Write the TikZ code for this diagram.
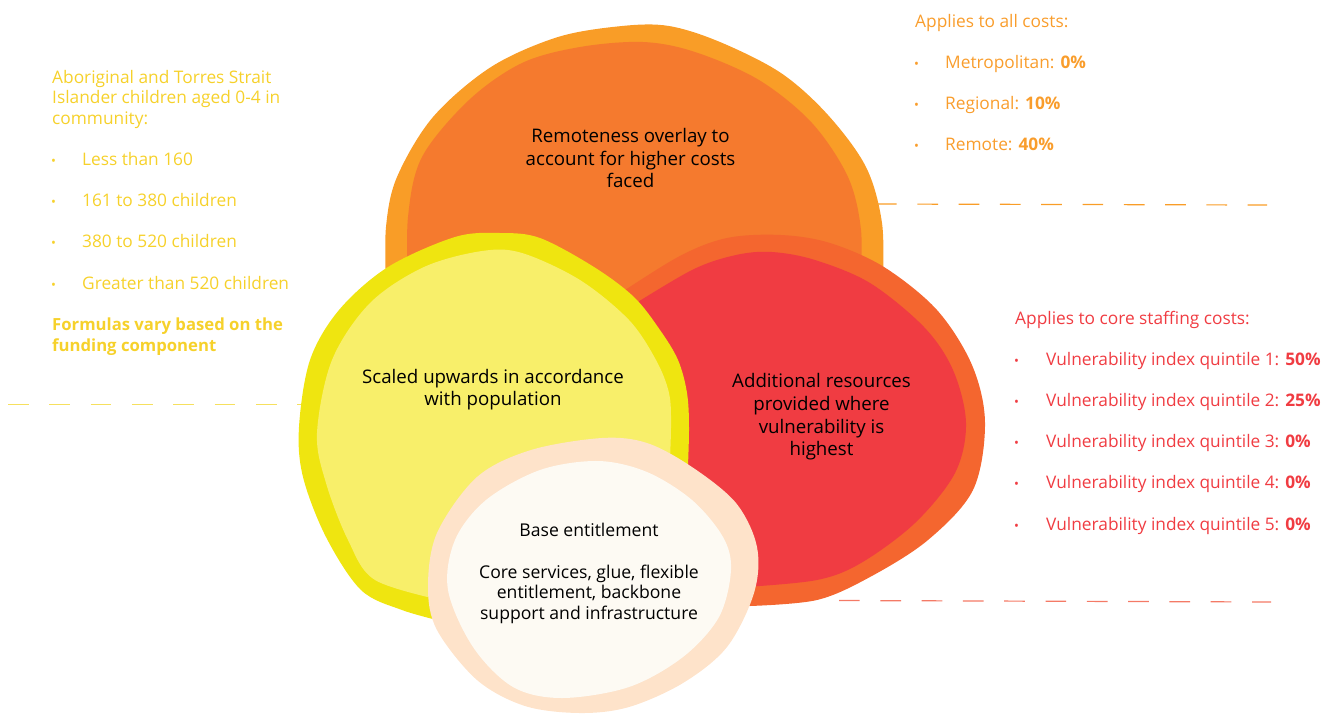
\documentclass[tikz,border=0pt]{standalone}
\usepackage{fontspec}
\setmainfont{Open Sans}
\definecolor{amberOut}{HTML}{F99D27}
\definecolor{amberIn}{HTML}{F57A2E}
\definecolor{yelOut}{HTML}{EFE510}
\definecolor{yelIn}{HTML}{F8EF6A}
\definecolor{redOut}{HTML}{F4662F}
\definecolor{redIn}{HTML}{F03C42}
\definecolor{baseOut}{HTML}{FEE3CA}
\definecolor{baseIn}{HTML}{FDFAF3}
\definecolor{yelText}{HTML}{F6D12B}
\definecolor{amberText}{HTML}{F99D2C}
\definecolor{redText}{HTML}{F03C42}
\definecolor{yelDash}{HTML}{F6E05E}
\definecolor{redDash}{HTML}{F47A66}
\tikzset{
  blob/.style={fill=#1,draw=none},
  side/.style={anchor=base west,inner sep=0pt,font=\fontsize{17.3}{20.6}\selectfont,text=#1},
  dot/.style={anchor=base west,inner sep=0pt,font=\fontsize{13}{13}\selectfont,text=#1},
  blabel/.style={align=center,inner sep=0pt,text=black,font=\fontsize{18.7}{22.6}\selectfont},
  dashline/.style={draw=#1,line width=1.2pt,dash pattern=on 20.7pt off 20.6pt}
}
\begin{document}
\begin{tikzpicture}[x=1pt,y=-1pt]
\useasboundingbox (0,0) rectangle (1335,713);
% dashed leaders
\coordinate (ya) at (8,404.5); \coordinate (yb) at (304,404.5);
\coordinate (oa) at (876,204); \coordinate (ob) at (1267,205);
\coordinate (ra) at (839,600.5); \coordinate (rb) at (1271,602);
\draw[dashline=yelDash] (ya) -- (yb);
\draw[dashline=amberOut] (oa) -- (ob);
\draw[dashline=redDash] (ra) -- (rb);
% orange
\fill[blob=amberOut] plot[smooth,tension=0.55] coordinates {(386,285)(386,227)(397,177)(433,117)(491,67)(558,37)(622,26)(669,26)(720,42)(781,73)(828,115)(866,167)(882,223)(883,285)} -- (640,340) -- cycle;
\fill[blob=amberIn] plot[smooth,tension=0.55] coordinates {(408,285)(408,217)(422,157)(469,100)(522,63)(580,47)(643,42)(695,52)(759,80)(812,123)(848,177)(861,230)(860,285)} -- (640,340) -- cycle;
% red
\fill[blob=redOut] plot[smooth,tension=0.55] coordinates {(610,300)(678,257)(727,238)(781,235)(830,243)(884,267)(937,310)(972,365)(985,423)(973,490)(928,540)(870,577)(817,600)(750,606)} -- (660,520) -- cycle;
\fill[blob=redIn] plot[smooth,tension=0.55] coordinates {(625,310)(692,270)(736,255)(772,252)(815,260)(870,283)(924,327)(953,370)(966,423)(955,473)(915,523)(861,563)(817,580)(745,587)} -- (660,520) -- cycle;
% yellow
\fill[blob=yelOut] plot[smooth,tension=0.55] coordinates {(445,622)(402,610)(361,590)(326,537)(303,477)(299,427)(310,360)(339,310)(388,267)(455,237)(500,233)(540,238)(594,267)(634,297)(660,330)(678,360)(687,393)(689,430)(687,490)} -- cycle;
\fill[blob=yelIn] plot[smooth,tension=0.55] coordinates {(445,601)(375,580)(348,540)(326,483)(317,433)(332,360)(370,303)(424,267)(482,251)(522,253)(580,280)(629,320)(656,360)(669,393)(671,427)(669,480)} -- cycle;
% base
\fill[blob=baseOut] plot[smooth cycle,tension=0.55] coordinates {(602,438)(647,443)(692,467)(736,503)(757,547)(754,593)(727,647)(683,683)(629,707)(580,713)(525,706)(477,680)(437,630)(428,587)(437,533)(477,477)(531,450)};
\fill[blob=baseIn] plot[smooth cycle,tension=0.55] coordinates {(598,461)(647,472)(692,500)(723,537)(731,570)(719,617)(683,657)(629,687)(562,698)(513,687)(473,647)(448,590)(455,540)(486,500)(540,470)};
% black labels
\node[blabel] (remote) at (630.5,158) {Remoteness overlay to\\account for higher costs\\faced};
\node[blabel] (scaled) at (493,389.5) {Scaled upwards in accordance\\with population};
\node[blabel] (vuln) at (821.5,417) {Additional resources\\provided where\\vulnerability is\\highest};
\node[blabel,font=\fontsize{17.6}{20.6}\selectfont] (base) at (589,573.5) {Base entitlement\\[20.6pt]Core services, glue, flexible\\entitlement, backbone\\support and infrastructure};
% yellow text
\node[side=yelText,anchor=north west,align=left] (ytitle) at (52,70) {Aboriginal and Torres Strait\\Islander children aged 0-4 in\\community:};
\node[dot=yelText] (yd1) at (51,165) {•}; \node[side=yelText] (y1) at (82,165) {Less than 160};
\node[dot=yelText] (yd2) at (51,206) {•}; \node[side=yelText] (y2) at (82,206) {161 to 380 children};
\node[dot=yelText] (yd3) at (51,247) {•}; \node[side=yelText] (y3) at (82,247) {380 to 520 children};
\node[dot=yelText] (yd4) at (51,289) {•}; \node[side=yelText] (y4) at (82,289) {Greater than 520 children};
\node[side=yelText,anchor=north west,align=left,font=\fontsize{16.7}{20.6}\selectfont\bfseries] (yform) at (52,318) {Formulas vary based on the\\funding component};
% orange text
\node[side=amberText] (otitle) at (915,27.5) {Applies to all costs:};
\node[dot=amberText] (od1) at (914,68.5) {•}; \node[side=amberText] (o1) at (945,68.5) {Metropolitan: \textbf{0\%}};
\node[dot=amberText] (od2) at (914,109.5) {•}; \node[side=amberText] (o2) at (945,109.5) {Regional: \textbf{10\%}};
\node[dot=amberText] (od3) at (914,150.5) {•}; \node[side=amberText] (o3) at (945,150.5) {Remote: \textbf{40\%}};
% red text
\node[side=redText] (rtitle) at (1015,324.5) {Applies to core staffing costs:};
\node[dot=redText] (rd1) at (1014,365.5) {•}; \node[side=redText] (r1) at (1046,365.5) {Vulnerability index quintile 1: \textbf{50\%}};
\node[dot=redText] (rd2) at (1014,406.5) {•}; \node[side=redText] (r2) at (1046,406.5) {Vulnerability index quintile 2: \textbf{25\%}};
\node[dot=redText] (rd3) at (1014,447.5) {•}; \node[side=redText] (r3) at (1046,447.5) {Vulnerability index quintile 3: \textbf{0\%}};
\node[dot=redText] (rd4) at (1014,488.5) {•}; \node[side=redText] (r4) at (1046,488.5) {Vulnerability index quintile 4: \textbf{0\%}};
\node[dot=redText] (rd5) at (1014,530) {•}; \node[side=redText] (r5) at (1046,530) {Vulnerability index quintile 5: \textbf{0\%}};
\end{tikzpicture}
\end{document}
